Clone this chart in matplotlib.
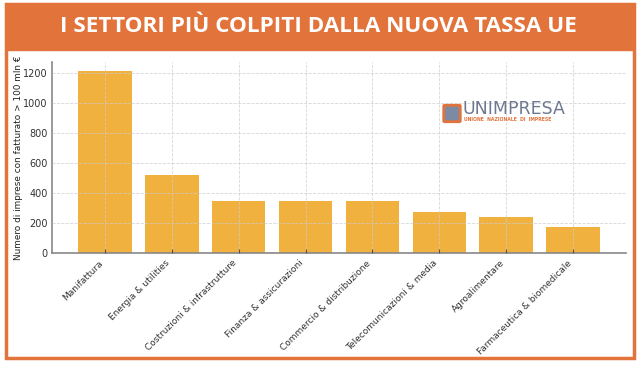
import matplotlib
matplotlib.use("Agg")
import matplotlib.pyplot as plt
from matplotlib.patches import Rectangle, FancyBboxPatch

categories = ["Manifattura", "Energia & utilities", "Costruzioni & infrastrutture",
              "Finanza & assicurazioni", "Commercio & distribuzione",
              "Telecomunicazioni & media", "Agroalimentare", "Farmaceutica & biomedicale"]
values = [1210, 520, 345, 345, 345, 275, 240, 170]
yticks = [0, 200, 400, 600, 800, 1000, 1200]

title = "I SETTORI PIÙ COLPITI DALLA NUOVA TASSA UE"
ylabel = "Numero di imprese con fatturato > 100 mln €"

orange = "#E2733A"
bar_color = "#F0B13F"

fig = plt.figure(figsize=(6.4, 3.66), dpi=100)
fig.patch.set_facecolor("white")

W, H = 640, 366
# header band
fig.patches.append(Rectangle((6 / W, 1 - 50 / H), 628 / W, 46 / H,
                             transform=fig.transFigure, facecolor=orange,
                             edgecolor=orange, linewidth=1, zorder=-2))
# outer frame
fig.patches.append(Rectangle((6 / W, 1 - 358 / H), 628 / W, 354 / H,
                             transform=fig.transFigure, facecolor="none",
                             edgecolor=orange, linewidth=2.5, zorder=-1))
fig.text(0.498, 1 - 27 / H, title, ha="center", va="center", color="white",
         fontsize=16.2, fontweight="bold", family="Open Sans")

ax = fig.add_axes([52 / W, 1 - 253 / H, (626 - 52) / W, (253 - 62) / H])
ax.set_zorder(2)
ax.set_facecolor("none")
x = list(range(len(categories)))
ax.bar(x, values, width=0.8, color=bar_color, zorder=1)
ax.set_axisbelow(False)
ax.grid(True, linestyle="--", color="#cccccc", linewidth=0.6, alpha=0.8, zorder=3)
ax.set_yticks(yticks)
ax.set_xticks(x)
ax.set_xticklabels(categories, rotation=45, ha="right",
                   fontsize=6.5, color="#333333")
ax.tick_params(axis="y", labelsize=7, colors="#333333", length=0, pad=3)
ax.tick_params(axis="x", length=3, direction="in", color="#555555", pad=4)
ax.set_ylabel(ylabel, fontsize=6.4, color="#222222", labelpad=0)
for s in ["top", "right"]:
    ax.spines[s].set_visible(False)
for s in ["left", "bottom"]:
    ax.spines[s].set_color("#888888")
    ax.spines[s].set_linewidth(1.2)

# logo
lx, ly = 445 / W, 1 - 121 / H
fig.patches.append(FancyBboxPatch((lx, ly), 14 / W, 15 / H, transform=fig.transFigure,
                                  boxstyle="round,pad=0.002", facecolor="#7C8AA3",
                                  edgecolor=orange, linewidth=2, zorder=5))
fig.text(463 / W, 1 - 109 / H, "UNIMPRESA", fontsize=12.5, color="#6E7890",
         ha="left", va="center", family="DejaVu Sans", zorder=6)
fig.text(464 / W, 1 - 120 / H, "UNIONE  NAZIONALE  DI  IMPRESE", fontsize=3.3,
         color="#E2733A", ha="left", va="center", fontweight="bold", zorder=6)

fig.savefig("out.png", dpi=100, facecolor="white")
